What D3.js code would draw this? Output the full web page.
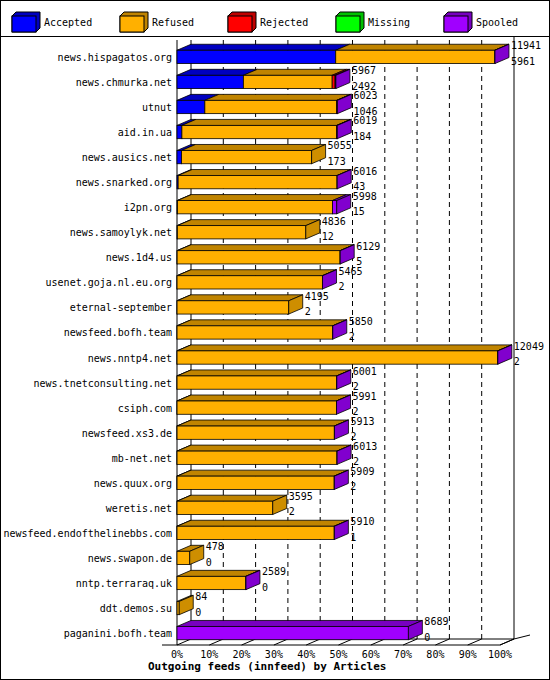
<!DOCTYPE html>
<html><head><meta charset="utf-8">
<script src="https://cdn.jsdelivr.net/npm/d3@7"></script>
<style>body{margin:0;background:#fff}</style></head>
<body><svg id="c" width="550" height="680"></svg>
<script>
const hosts = ["news.hispagatos.org","news.chmurka.net","utnut","aid.in.ua","news.ausics.net","news.snarked.org","i2pn.org","news.samoylyk.net","news.1d4.us","usenet.goja.nl.eu.org","eternal-september","newsfeed.bofh.team","news.nntp4.net","news.tnetconsulting.net","csiph.com","newsfeed.xs3.de","mb-net.net","news.quux.org","weretis.net","newsfeed.endofthelinebbs.com","news.swapon.de","nntp.terraraq.uk","ddt.demos.su","paganini.bofh.team"];
const totals = [11941,5967,6023,6019,5055,6016,5998,4836,6129,5465,4195,5850,12049,6001,5991,5913,6013,5909,3595,5910,478,2589,84,8689];
const accepted = [5961,2492,1046,184,173,43,15,12,5,2,2,2,2,2,2,2,2,2,2,1,0,0,0,0];
const rejected = [0,110,20,15,0,0,0,0,0,0,0,0,0,0,0,0,0,0,0,0,0,0,0,0];
const spooled = [5,30,5,5,0,5,160,0,5,5,0,5,5,5,5,5,5,5,0,5,0,5,0,8689];
const legendNames = ["Accepted","Refused","Rejected","Missing","Spooled"];
const legendColors = ["#0000ff","#ffb000","#ff0000","#00ff00","#a000ff"];
const tickLabels = d3.range(0,101,10);

const svg = d3.select("#c");
const font = "'DejaVu Sans Mono', monospace";
const DX = 14, DY = 6;
const x0 = 177, x1 = 500;
const x = d3.scaleLinear().domain([0,12130]).range([x0,x1]);
const xp = d3.scaleLinear().domain([0,100]).range([x0,x1]);
const y = d3.scaleBand().domain(hosts).range([44,646]).paddingInner(0.47).paddingOuter(0.25);
const dark = c => d3.color(c).darker(0.8).formatHex();

svg.append("rect").attr("x",0.5).attr("y",0.5).attr("width",549).attr("height",679).attr("fill","#fff").attr("stroke","#000");
svg.append("line").attr("x1",0).attr("x2",550).attr("y1",36.5).attr("y2",36.5).attr("stroke","#000");

// legend
const lg = svg.append("g");
legendNames.forEach((n,i)=>{
  const lx = 12 + i*108, ly = 12;
  lg.append("path").attr("d",`M${lx},${ly+4}L${lx+4},${ly}L${lx+28},${ly}L${lx+28},${ly+16}L${lx+24},${ly+20}L${lx},${ly+20}Z`)
    .attr("fill",dark(legendColors[i])).attr("stroke","#000");
  lg.append("rect").attr("x",lx).attr("y",ly+4).attr("width",24).attr("height",16).attr("fill",legendColors[i]).attr("stroke","#000");
  lg.append("text").attr("x",lx+32).attr("y",ly+14).attr("font-family",font).attr("font-size",10).text(n);
});

// floor & walls
const yb = 645;
svg.append("path").attr("d",`M${x0-15},${yb}L${x1},${yb}L${x1+DX},${yb-DY}L${x0+DX},${yb-DY}`).attr("fill","none").attr("stroke","#000");
svg.append("path").attr("d",`M${x1+DX},${yb-DY}L${x1+DX+16},${yb-DY-4}`).attr("stroke","#000");
svg.append("line").attr("x1",x0).attr("x2",x0).attr("y1",40).attr("y2",yb).attr("stroke","#000");
svg.append("line").attr("x1",x0+DX).attr("x2",x0+DX).attr("y1",40).attr("y2",yb-DY).attr("stroke","#000");
svg.append("line").attr("x1",x1+DX).attr("x2",x1+DX).attr("y1",37).attr("y2",yb-DY).attr("stroke","#000");
svg.selectAll(".grid").data(tickLabels.slice(1,10)).join("line")
  .attr("x1",d=>xp(d)+DX).attr("x2",d=>xp(d)+DX).attr("y1",40).attr("y2",yb-DY)
  .attr("stroke","#000").attr("stroke-dasharray","5,4");
svg.selectAll(".tk").data(tickLabels).join("line")
  .attr("x1",d=>xp(d)).attr("x2",d=>xp(d)+DX).attr("y1",yb).attr("y2",yb-DY).attr("stroke","#000");
svg.selectAll(".tl").data(tickLabels).join("text")
  .attr("x",d=>xp(d)).attr("y",658).attr("text-anchor","middle")
  .attr("font-family",font).attr("font-size",10).text(d=>d+"%");
svg.append("text").attr("x",148).attr("y",670).attr("font-family",font).attr("font-size",11).attr("font-weight","bold")
  .text("Outgoing feeds (innfeed) by Articles");

// bars
hosts.forEach((h,i)=>{
  const segs = [accepted[i], totals[i]-accepted[i]-rejected[i]-spooled[i], rejected[i], 0, spooled[i]];
  const g = svg.append("g");
  const top = y(h), bh = y.bandwidth();
  let acc = 0, last = 0;
  segs.forEach((v,k)=>{
    if (v<=0) return;
    const a = x(acc), b = x(acc+v);
    g.append("path").attr("d",`M${a},${top}L${a+DX},${top-DY}L${b+DX},${top-DY}L${b},${top}Z`)
      .attr("fill",dark(legendColors[k])).attr("stroke","#000").attr("stroke-width",0.8);
    g.append("rect").attr("x",a).attr("y",top).attr("width",b-a).attr("height",bh)
      .attr("fill",legendColors[k]).attr("stroke","#000").attr("stroke-width",0.8);
    acc += v; last = k;
  });
  const e = x(acc);
  g.append("path").attr("d",`M${e},${top}L${e+DX},${top-DY}L${e+DX},${top+bh-DY}L${e},${top+bh}Z`)
    .attr("fill",d3.color(legendColors[last]).darker(0.6).formatHex()).attr("stroke","#000").attr("stroke-width",0.8);
  g.append("text").attr("x",e+DX+2).attr("y",top-1).attr("font-family",font).attr("font-size",10).text(totals[i]);
  g.append("text").attr("x",e+DX+2).attr("y",top+bh+1).attr("font-family",font).attr("font-size",10).text(accepted[i]);
  svg.append("text").attr("x",172).attr("y",top+bh/2+4).attr("text-anchor","end")
    .attr("font-family",font).attr("font-size",10).text(h);
});
</script></body></html>
